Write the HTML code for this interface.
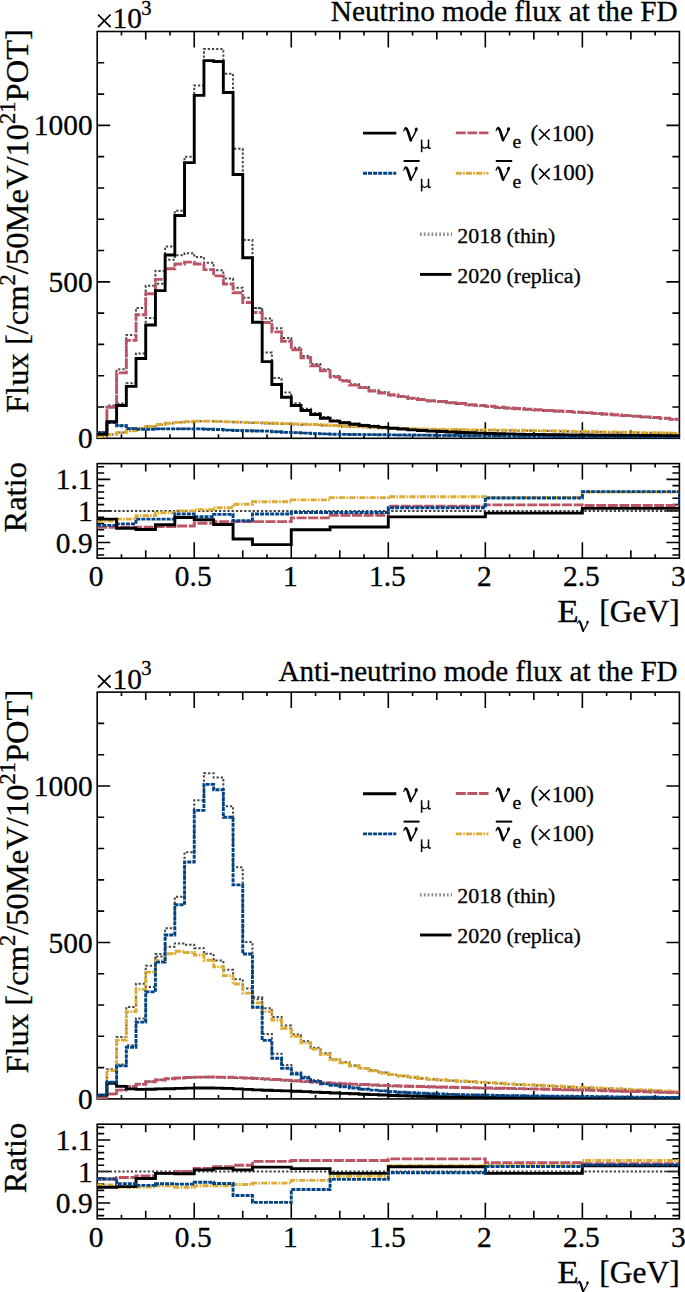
<!DOCTYPE html>
<html><head><meta charset="utf-8"><style>
html,body{margin:0;padding:0;background:#fff;width:685px;height:1292px;overflow:hidden}
svg{display:block}
</style></head><body>
<svg width="685" height="1292" viewBox="0 0 685 1292">
<defs><clipPath id="cm"><rect x="97.2" y="31.5" width="582.20" height="406.80"/></clipPath><clipPath id="cr"><rect x="97.2" y="463.6" width="582.20" height="94.60"/></clipPath></defs>
<rect width="685" height="1292" fill="#fff"/>
<g><g fill="none" stroke="#000" stroke-width="1.6">
<rect x="97.2" y="31.5" width="582.20" height="406.80"/>
<path d="M121.46 438.30V434.30M121.46 31.50V35.50M145.72 438.30V430.30M145.72 31.50V39.50M169.97 438.30V434.30M169.97 31.50V35.50M194.23 438.30V422.30M194.23 31.50V47.50M218.49 438.30V434.30M218.49 31.50V35.50M242.75 438.30V430.30M242.75 31.50V39.50M267.01 438.30V434.30M267.01 31.50V35.50M291.27 438.30V422.30M291.27 31.50V47.50M315.52 438.30V434.30M315.52 31.50V35.50M339.78 438.30V430.30M339.78 31.50V39.50M364.04 438.30V434.30M364.04 31.50V35.50M388.30 438.30V422.30M388.30 31.50V47.50M412.56 438.30V434.30M412.56 31.50V35.50M436.82 438.30V430.30M436.82 31.50V39.50M461.07 438.30V434.30M461.07 31.50V35.50M485.33 438.30V422.30M485.33 31.50V47.50M509.59 438.30V434.30M509.59 31.50V35.50M533.85 438.30V430.30M533.85 31.50V39.50M558.11 438.30V434.30M558.11 31.50V35.50M582.37 438.30V422.30M582.37 31.50V47.50M606.62 438.30V434.30M606.62 31.50V35.50M630.88 438.30V430.30M630.88 31.50V39.50M655.14 438.30V434.30M655.14 31.50V35.50M97.2 407.01H104.2M679.4 407.01H672.4M97.2 375.72H104.2M679.4 375.72H672.4M97.2 344.42H104.2M679.4 344.42H672.4M97.2 313.13H104.2M679.4 313.13H672.4M97.2 281.84H110.2M679.4 281.84H666.4M97.2 250.55H104.2M679.4 250.55H672.4M97.2 219.25H104.2M679.4 219.25H672.4M97.2 187.96H104.2M679.4 187.96H672.4M97.2 156.67H104.2M679.4 156.67H672.4M97.2 125.38H110.2M679.4 125.38H666.4M97.2 94.08H104.2M679.4 94.08H672.4M97.2 62.79H104.2M679.4 62.79H672.4"/>
<rect x="97.2" y="463.6" width="582.20" height="94.60"/>
<path d="M121.46 558.20V554.20M121.46 463.60V467.60M145.72 558.20V550.20M145.72 463.60V471.60M169.97 558.20V554.20M169.97 463.60V467.60M194.23 558.20V542.20M194.23 463.60V479.60M218.49 558.20V554.20M218.49 463.60V467.60M242.75 558.20V550.20M242.75 463.60V471.60M267.01 558.20V554.20M267.01 463.60V467.60M291.27 558.20V542.20M291.27 463.60V479.60M315.52 558.20V554.20M315.52 463.60V467.60M339.78 558.20V550.20M339.78 463.60V471.60M364.04 558.20V554.20M364.04 463.60V467.60M388.30 558.20V542.20M388.30 463.60V479.60M412.56 558.20V554.20M412.56 463.60V467.60M436.82 558.20V550.20M436.82 463.60V471.60M461.07 558.20V554.20M461.07 463.60V467.60M485.33 558.20V542.20M485.33 463.60V479.60M509.59 558.20V554.20M509.59 463.60V467.60M533.85 558.20V550.20M533.85 463.60V471.60M558.11 558.20V554.20M558.11 463.60V467.60M582.37 558.20V542.20M582.37 463.60V479.60M606.62 558.20V554.20M606.62 463.60V467.60M630.88 558.20V550.20M630.88 463.60V471.60M655.14 558.20V554.20M655.14 463.60V467.60M97.2 555.05H104.2M679.4 555.05H672.4M97.2 548.74H104.2M679.4 548.74H672.4M97.2 542.43H110.2M679.4 542.43H666.4M97.2 536.13H104.2M679.4 536.13H672.4M97.2 529.82H104.2M679.4 529.82H672.4M97.2 523.51H104.2M679.4 523.51H672.4M97.2 517.21H104.2M679.4 517.21H672.4M97.2 510.90H110.2M679.4 510.90H666.4M97.2 504.59H104.2M679.4 504.59H672.4M97.2 498.29H104.2M679.4 498.29H672.4M97.2 491.98H104.2M679.4 491.98H672.4M97.2 485.67H104.2M679.4 485.67H672.4M97.2 479.37H110.2M679.4 479.37H666.4M97.2 473.06H104.2M679.4 473.06H672.4M97.2 466.75H104.2M679.4 466.75H672.4"/>
</g>
<g fill="none" clip-path="url(#cm)">
<path d="M97.20 434.12H106.90V421.27H116.61V403.53H126.31V383.33H136.01V353.50H145.72V317.92H155.42V283.80H165.12V246.49H174.83V210.72H184.53V156.70H194.23V85.46H203.94V49.02H213.64V49.02H223.34V73.74H233.05V148.73H242.75V240.10H252.45V308.30H262.16V352.45H271.86V378.03H281.56V392.40H291.27V403.35H300.97V408.67H310.67V413.00H320.38V416.99H330.08V420.16H339.78V421.98H349.49V423.46H359.19V424.78H368.89V425.77H378.60V426.76H388.30V428.09H398.00V428.89H407.71V429.69H417.41V430.33H427.11V430.96H436.82V431.44H446.52V431.92H456.22V432.32H465.93V432.72H475.63V433.04H485.33V433.42H495.04V433.65H504.74V433.89H514.44V434.12H524.15V434.36H533.85V434.48H543.55V434.60H553.26V434.72H562.96V434.83H572.66V434.91H582.37V435.04H592.07V435.12H601.77V435.20H611.48V435.27H621.18V435.35H630.88V435.43H640.59V435.51H650.29V435.56H659.99V435.61H669.70V435.66H679.40" stroke="#454545" stroke-width="2.0" stroke-dasharray="2.3 1.9"/>
<path d="M97.20 432.36H106.90V405.62H116.61V369.31H126.31V334.98H136.01V307.92H145.72V285.80H155.42V270.97H165.12V259.77H174.83V255.21H184.53V253.24H194.23V256.93H203.94V262.79H213.64V270.18H223.34V278.60H233.05V287.67H242.75V297.71H252.45V308.08H262.16V318.44H271.86V328.16H281.56V337.88H291.27V347.75H300.97V356.07H310.67V364.07H320.38V369.19H330.08V376.10H339.78V380.22H349.49V384.35H359.19V386.89H368.89V390.38H378.60V392.28H388.30V395.45H398.00V396.99H407.71V398.68H417.41V400.07H427.11V401.30H436.82V402.04H446.52V403.15H456.22V404.08H465.93V405.31H475.63V405.93H485.33V406.79H495.04V407.90H504.74V408.51H514.44V409.13H524.15V409.74H533.85V410.35H543.55V410.97H553.26V411.51H562.96V412.04H572.66V412.58H582.37V413.07H592.07V413.76H601.77V414.45H611.48V415.15H621.18V415.84H630.88V416.53H640.59V417.22H650.29V417.92H659.99V418.61H669.70V419.53H679.40" stroke="#454545" stroke-width="2.0" stroke-dasharray="2.3 1.9"/>
<path d="M97.20 432.40H106.90V421.90H116.61V425.25H126.31V428.18H136.01V428.98H145.72V428.98H155.42V428.66H165.12V428.66H174.83V428.82H184.53V428.82H194.23V428.74H203.94V429.06H213.64V429.44H223.34V430.07H233.05V430.23H242.75V430.55H252.45V430.87H262.16V431.03H271.86V431.66H281.56V432.29H291.27V432.64H300.97V433.11H310.67V433.58H320.38V433.90H330.08V434.21H339.78V434.37H349.49V434.46H359.19V434.56H368.89V434.65H378.60V434.75H388.30V434.89H398.00V435.00H407.71V435.10H417.41V435.20H427.11V435.31H436.82V435.41H446.52V435.51H456.22V435.61H465.93V435.72H475.63V435.82H485.33V436.00H495.04V436.10H504.74V436.20H514.44V436.27H524.15V436.35H533.85V436.42H543.55V436.50H553.26V436.57H562.96V436.65H572.66V436.72H582.37V436.83H592.07V436.89H601.77V436.96H611.48V437.02H621.18V437.09H630.88V437.15H640.59V437.22H650.29V437.28H659.99V437.35H669.70V437.42H679.40" stroke="#454545" stroke-width="2.0" stroke-dasharray="2.3 1.9"/>
<path d="M97.20 436.68H106.90V434.42H116.61V432.52H126.31V430.59H136.01V428.45H145.72V426.23H155.42V424.45H165.12V423.19H174.83V422.34H184.53V421.72H194.23V421.16H203.94V421.16H213.64V421.57H223.34V421.88H233.05V422.36H242.75V422.67H252.45V423.09H262.16V423.40H271.86V423.70H281.56V424.01H291.27V424.39H300.97V424.69H310.67V425.00H320.38V425.45H330.08V425.99H339.78V426.44H349.49V426.89H359.19V427.34H368.89V427.79H378.60V428.16H388.30V428.57H398.00V428.87H407.71V429.17H417.41V429.39H427.11V429.62H436.82V429.77H446.52V429.92H456.22V430.07H465.93V430.21H475.63V430.29H485.33V430.35H495.04V430.42H504.74V430.50H514.44V430.65H524.15V430.80H533.85V430.95H543.55V431.10H553.26V431.29H562.96V431.47H572.66V431.66H582.37V431.95H592.07V432.10H601.77V432.25H611.48V432.40H621.18V432.54H630.88V432.73H640.59V432.91H650.29V433.10H659.99V433.28H669.70V433.58H679.40" stroke="#454545" stroke-width="2.0" stroke-dasharray="2.3 1.9"/>
<path d="M97.20 436.74H106.90V434.54H116.61V432.67H126.31V430.79H136.01V428.60H145.72V426.41H155.42V424.53H165.12V423.28H174.83V422.34H184.53V421.72H194.23V421.09H203.94V421.09H213.64V421.40H223.34V421.72H233.05V422.03H242.75V422.34H252.45V422.65H262.16V422.97H271.86V423.28H281.56V423.59H291.27V423.91H300.97V424.22H310.67V424.53H320.38V425.00H330.08V425.47H339.78V425.94H349.49V426.41H359.19V426.88H368.89V427.35H378.60V427.74H388.30V428.13H398.00V428.44H407.71V428.76H417.41V428.99H427.11V429.23H436.82V429.38H446.52V429.54H456.22V429.69H465.93V429.85H475.63V429.93H485.33V430.01H495.04V430.09H504.74V430.16H514.44V430.32H524.15V430.48H533.85V430.63H543.55V430.79H553.26V430.99H562.96V431.18H572.66V431.38H582.37V431.57H592.07V431.73H601.77V431.89H611.48V432.04H621.18V432.20H630.88V432.39H640.59V432.59H650.29V432.78H659.99V432.98H669.70V433.29H679.40" stroke="#DDAA33" stroke-width="2.9" stroke-dasharray="6 1.35 1.6 1.25"/>
<path d="M97.20 432.67H106.90V407.32H116.61V372.90H126.31V340.36H136.01V314.70H145.72V293.73H155.42V279.34H165.12V268.70H174.83V264.00H184.53V262.12H194.23V264.00H203.94V269.63H213.64V275.89H223.34V284.03H233.05V292.79H242.75V302.49H252.45V312.50H262.16V322.52H271.86V331.91H281.56V341.29H291.27V349.74H300.97V357.88H310.67V365.70H320.38V370.71H330.08V376.97H339.78V381.04H349.49V385.10H359.19V387.61H368.89V391.05H378.60V392.93H388.30V394.80H398.00V396.37H407.71V398.09H417.41V399.50H427.11V400.75H436.82V401.50H446.52V402.63H456.22V403.57H465.93V404.82H475.63V405.44H485.33V406.19H495.04V407.32H504.74V407.95H514.44V408.57H524.15V409.20H533.85V409.82H543.55V410.45H553.26V411.00H562.96V411.55H572.66V412.09H582.37V412.64H592.07V413.34H601.77V414.05H611.48V414.75H621.18V415.46H630.88V416.16H640.59V416.86H650.29V417.57H659.99V418.27H669.70V419.21H679.40" stroke="#BB5566" stroke-width="2.9" stroke-dasharray="10 1.6"/>
<path d="M97.20 432.67H106.90V422.65H116.61V425.78H126.31V428.60H136.01V429.23H145.72V429.23H155.42V428.91H165.12V428.91H174.83V428.91H184.53V428.91H194.23V428.91H203.94V429.23H213.64V429.54H223.34V430.16H233.05V430.48H242.75V430.79H252.45V430.95H262.16V431.10H271.86V431.73H281.56V432.35H291.27V432.67H300.97V433.14H310.67V433.61H320.38V433.92H330.08V434.23H339.78V434.39H349.49V434.48H359.19V434.58H368.89V434.67H378.60V434.76H388.30V434.86H398.00V434.96H407.71V435.07H417.41V435.17H427.11V435.28H436.82V435.38H446.52V435.48H456.22V435.59H465.93V435.69H475.63V435.80H485.33V435.90H495.04V436.01H504.74V436.11H514.44V436.19H524.15V436.27H533.85V436.34H543.55V436.42H553.26V436.50H562.96V436.58H572.66V436.66H582.37V436.74H592.07V436.80H601.77V436.87H611.48V436.94H621.18V437.01H630.88V437.08H640.59V437.15H650.29V437.22H659.99V437.29H669.70V437.36H679.40" stroke="#004488" stroke-width="2.9" stroke-dasharray="4 1.05"/>
<path d="M97.20 434.23H106.90V421.72H116.61V405.44H126.31V386.35H136.01V358.50H145.72V325.02H155.42V290.60H165.12V254.93H174.83V215.50H184.53V162.61H194.23V95.34H203.94V60.60H213.64V61.54H223.34V92.52H233.05V174.51H242.75V257.74H252.45V322.21H262.16V361.63H271.86V384.48H281.56V397.31H291.27V405.44H300.97V410.45H310.67V414.52H320.38V418.27H330.08V421.09H339.78V422.81H349.49V424.22H359.19V425.47H368.89V426.41H378.60V427.35H388.30V428.29H398.00V429.07H407.71V429.85H417.41V430.48H427.11V431.10H436.82V431.57H446.52V432.04H456.22V432.43H465.93V432.82H475.63V433.14H485.33V433.45H495.04V433.68H504.74V433.92H514.44V434.15H524.15V434.39H533.85V434.51H543.55V434.62H553.26V434.74H562.96V434.86H572.66V434.94H582.37V435.01H592.07V435.09H601.77V435.17H611.48V435.25H621.18V435.33H630.88V435.41H640.59V435.48H650.29V435.54H659.99V435.59H669.70V435.64H679.40" stroke="#000000" stroke-width="2.9"/>
</g>
<g fill="none" clip-path="url(#cr)">
<path d="M97.2 510.90H679.4" stroke="#454545" stroke-width="2.0" stroke-dasharray="2.3 1.9"/>
<path d="M97.20 520.99H116.61V519.10H136.01V515.63H155.42V512.79H174.83V510.90H194.23V509.64H213.64V507.75H233.05V504.28H252.45V501.76H291.27V499.86H330.08V497.66H388.30V496.71H485.33V497.34H582.37V491.98H679.40" stroke="#DDAA33" stroke-width="2.9" stroke-dasharray="6 1.35 1.6 1.25"/>
<path d="M97.20 527.30H116.61V527.30H136.01V527.30H155.42V526.67H174.83V526.04H194.23V523.20H213.64V521.62H233.05V521.62H252.45V521.62H291.27V517.84H330.08V515.31H388.30V506.17H485.33V504.91H582.37V505.54H679.40" stroke="#BB5566" stroke-width="2.9" stroke-dasharray="10 1.6"/>
<path d="M97.20 525.41H116.61V523.83H136.01V519.10H155.42V519.10H174.83V514.05H194.23V516.58H213.64V514.37H233.05V520.68H252.45V514.05H291.27V512.48H330.08V512.48H388.30V507.75H485.33V497.97H582.37V491.66H679.40V503.33H776.43" stroke="#004488" stroke-width="2.9" stroke-dasharray="4 1.05"/>
<path d="M97.20 519.10H116.61V528.24H136.01V529.50H155.42V524.77H174.83V517.52H194.23V519.73H213.64V524.46H233.05V538.96H252.45V544.64H291.27V529.82H330.08V526.98H388.30V516.89H485.33V513.11H582.37V508.38H679.40" stroke="#000000" stroke-width="2.9"/>
</g>
<g font-family="Liberation Serif, serif" stroke="#000" stroke-width="0.3" fill="#000">
<text transform="translate(677.60 20.80) scale(1 1.02)" font-size="29.25" text-anchor="end">Neutrino mode flux at the FD</text>
<path d="M98.00 14.50L110.60 27.10M98.00 27.10L110.60 14.50" stroke="#000" stroke-width="1.75" fill="none"/>
<text x="112.60" y="28.40" font-size="29.3">10</text>
<text x="141.20" y="14.50" font-size="20.5">3</text>
<text transform="translate(92.60 448.40) scale(1 1.03)" font-size="29.4" text-anchor="end">0</text>
<text transform="translate(92.60 291.94) scale(1 1.03)" font-size="29.4" text-anchor="end">500</text>
<text transform="translate(92.60 135.48) scale(1 1.03)" font-size="29.4" text-anchor="end">1000</text>
<text transform="translate(92.60 552.53) scale(1 1.03)" font-size="29.4" text-anchor="end">0.9</text>
<text transform="translate(92.60 521.00) scale(1 1.03)" font-size="29.4" text-anchor="end">1</text>
<text transform="translate(92.60 489.47) scale(1 1.03)" font-size="29.4" text-anchor="end">1.1</text>
<text transform="translate(96.20 586.30) scale(1 1.03)" font-size="29.4" text-anchor="middle">0</text>
<text transform="translate(193.23 586.30) scale(1 1.03)" font-size="29.4" text-anchor="middle">0.5</text>
<text transform="translate(290.27 586.30) scale(1 1.03)" font-size="29.4" text-anchor="middle">1</text>
<text transform="translate(387.30 586.30) scale(1 1.03)" font-size="29.4" text-anchor="middle">1.5</text>
<text transform="translate(484.33 586.30) scale(1 1.03)" font-size="29.4" text-anchor="middle">2</text>
<text transform="translate(581.37 586.30) scale(1 1.03)" font-size="29.4" text-anchor="middle">2.5</text>
<text transform="translate(678.40 586.30) scale(1 1.03)" font-size="29.4" text-anchor="middle">3</text>
<text transform="translate(557.3 622.3) scale(1.12 0.975)" font-size="31.5">E</text>
<g transform="translate(577.10 620.60) scale(0.8)" fill="none" stroke="#000" stroke-linecap="round" stroke-linejoin="round"><path d="M0.6 3.5C0.9 1.9 1.6 1.0 2.7 0.9" stroke-width="1.2"/><path d="M2.6 0.9C3.6 1.0 4.1 2.3 4.6 3.7L7.6 13.0" stroke-width="2.7"/><path d="M7.6 13.0C9.4 9.8 11.7 6.6 12.8 3.4" stroke-width="1.45"/><ellipse cx="13.0" cy="2.1" rx="1.5" ry="2.0" transform="rotate(22 13.0 2.1)" fill="#000" stroke="none"/></g>
<text x="679.80" y="622.30" font-size="31.5" text-anchor="end">[GeV]</text>
<text transform="translate(28.1 413) rotate(-90)" font-size="32.6">Flux [/cm<tspan font-size="22.5" dy="-13.5">2</tspan><tspan dy="13.5">/50MeV/10</tspan><tspan font-size="22.5" dy="-13.5">21</tspan><tspan dy="13.5">POT]</tspan></text>
<text transform="translate(26.3 532.6) rotate(-90)" font-size="32.6">Ratio</text>
</g>
<g fill="none">
<path d="M363 133.1H396.3" stroke="#000000" stroke-width="2.9"/>
<path d="M363 173.3H396.3" stroke="#004488" stroke-width="2.9" stroke-dasharray="4 1.05"/>
<path d="M455.8 132.9H488.5" stroke="#BB5566" stroke-width="2.9" stroke-dasharray="10 1.6"/>
<path d="M455.8 173.3H488.5" stroke="#DDAA33" stroke-width="2.9" stroke-dasharray="6 1.35 1.6 1.25"/>
<path d="M420 234.3H452" stroke="#8a8a8a" stroke-width="3.4" stroke-dasharray="1.7 2.15"/>
<path d="M420 274.4H451.5" stroke="#000" stroke-width="2.9"/>
</g>
<g font-family="Liberation Serif, serif" stroke="#000" stroke-width="0.3" fill="#000">
<g transform="translate(403.20 127.40) scale(1.0)" fill="none" stroke="#000" stroke-linecap="round" stroke-linejoin="round"><path d="M0.6 3.5C0.9 1.9 1.6 1.0 2.7 0.9" stroke-width="1.2"/><path d="M2.6 0.9C3.6 1.0 4.1 2.3 4.6 3.7L7.6 13.0" stroke-width="2.7"/><path d="M7.6 13.0C9.4 9.8 11.7 6.6 12.8 3.4" stroke-width="1.45"/><ellipse cx="13.0" cy="2.1" rx="1.5" ry="2.0" transform="rotate(22 13.0 2.1)" fill="#000" stroke="none"/></g>
<g transform="translate(420.20 139.30) scale(1.0)" fill="none" stroke="#000" stroke-linecap="butt"><path d="M1.4 0.3V12.9" stroke-width="1.55"/><path d="M1.5 6.0C1.6 9.4 5.4 9.6 8.0 7.2" stroke-width="1.15"/><path d="M8.3 0.3V8.0C8.3 9.2 9.3 9.4 10.4 8.4" stroke-width="1.5"/></g>
<g transform="translate(403.20 166.60) scale(1.0)" fill="none" stroke="#000" stroke-linecap="round" stroke-linejoin="round"><path d="M0.6 3.5C0.9 1.9 1.6 1.0 2.7 0.9" stroke-width="1.2"/><path d="M2.6 0.9C3.6 1.0 4.1 2.3 4.6 3.7L7.6 13.0" stroke-width="2.7"/><path d="M7.6 13.0C9.4 9.8 11.7 6.6 12.8 3.4" stroke-width="1.45"/><ellipse cx="13.0" cy="2.1" rx="1.5" ry="2.0" transform="rotate(22 13.0 2.1)" fill="#000" stroke="none"/></g>
<g transform="translate(420.20 178.50) scale(1.0)" fill="none" stroke="#000" stroke-linecap="butt"><path d="M1.4 0.3V12.9" stroke-width="1.55"/><path d="M1.5 6.0C1.6 9.4 5.4 9.6 8.0 7.2" stroke-width="1.15"/><path d="M8.3 0.3V8.0C8.3 9.2 9.3 9.4 10.4 8.4" stroke-width="1.5"/></g>
<path d="M403.6 161H419.6" stroke="#000" stroke-width="2"/>
<g transform="translate(495.50 127.20) scale(1.0)" fill="none" stroke="#000" stroke-linecap="round" stroke-linejoin="round"><path d="M0.6 3.5C0.9 1.9 1.6 1.0 2.7 0.9" stroke-width="1.2"/><path d="M2.6 0.9C3.6 1.0 4.1 2.3 4.6 3.7L7.6 13.0" stroke-width="2.7"/><path d="M7.6 13.0C9.4 9.8 11.7 6.6 12.8 3.4" stroke-width="1.45"/><ellipse cx="13.0" cy="2.1" rx="1.5" ry="2.0" transform="rotate(22 13.0 2.1)" fill="#000" stroke="none"/></g>
<text x="512.50" y="148.30" font-size="19.6">e</text>
<g transform="translate(495.50 166.60) scale(1.0)" fill="none" stroke="#000" stroke-linecap="round" stroke-linejoin="round"><path d="M0.6 3.5C0.9 1.9 1.6 1.0 2.7 0.9" stroke-width="1.2"/><path d="M2.6 0.9C3.6 1.0 4.1 2.3 4.6 3.7L7.6 13.0" stroke-width="2.7"/><path d="M7.6 13.0C9.4 9.8 11.7 6.6 12.8 3.4" stroke-width="1.45"/><ellipse cx="13.0" cy="2.1" rx="1.5" ry="2.0" transform="rotate(22 13.0 2.1)" fill="#000" stroke="none"/></g>
<text x="512.50" y="187.70" font-size="19.6">e</text>
<path d="M495.8 161H512.2" stroke="#000" stroke-width="2"/>
<text x="530.50" y="141.00" font-size="23.0">(</text>
<path d="M539.10 129.20L549.70 139.80M539.10 139.80L549.70 129.20" stroke="#000" stroke-width="1.6" fill="none"/>
<text x="551.80" y="141.00" font-size="23.0">100)</text>
<text x="530.50" y="180.40" font-size="23.0">(</text>
<path d="M539.10 168.60L549.70 179.20M539.10 179.20L549.70 168.60" stroke="#000" stroke-width="1.6" fill="none"/>
<text x="551.80" y="180.40" font-size="23.0">100)</text>
<text x="457.30" y="242.70" font-size="21.9">2018 (thin)</text>
<text x="457.30" y="282.90" font-size="21.9">2020 (replica)</text>
</g></g>
<g transform="translate(0 660.6)"><g fill="none" stroke="#000" stroke-width="1.6">
<rect x="97.2" y="31.5" width="582.20" height="406.80"/>
<path d="M121.46 438.30V434.30M121.46 31.50V35.50M145.72 438.30V430.30M145.72 31.50V39.50M169.97 438.30V434.30M169.97 31.50V35.50M194.23 438.30V422.30M194.23 31.50V47.50M218.49 438.30V434.30M218.49 31.50V35.50M242.75 438.30V430.30M242.75 31.50V39.50M267.01 438.30V434.30M267.01 31.50V35.50M291.27 438.30V422.30M291.27 31.50V47.50M315.52 438.30V434.30M315.52 31.50V35.50M339.78 438.30V430.30M339.78 31.50V39.50M364.04 438.30V434.30M364.04 31.50V35.50M388.30 438.30V422.30M388.30 31.50V47.50M412.56 438.30V434.30M412.56 31.50V35.50M436.82 438.30V430.30M436.82 31.50V39.50M461.07 438.30V434.30M461.07 31.50V35.50M485.33 438.30V422.30M485.33 31.50V47.50M509.59 438.30V434.30M509.59 31.50V35.50M533.85 438.30V430.30M533.85 31.50V39.50M558.11 438.30V434.30M558.11 31.50V35.50M582.37 438.30V422.30M582.37 31.50V47.50M606.62 438.30V434.30M606.62 31.50V35.50M630.88 438.30V430.30M630.88 31.50V39.50M655.14 438.30V434.30M655.14 31.50V35.50M97.2 407.01H104.2M679.4 407.01H672.4M97.2 375.72H104.2M679.4 375.72H672.4M97.2 344.42H104.2M679.4 344.42H672.4M97.2 313.13H104.2M679.4 313.13H672.4M97.2 281.84H110.2M679.4 281.84H666.4M97.2 250.55H104.2M679.4 250.55H672.4M97.2 219.25H104.2M679.4 219.25H672.4M97.2 187.96H104.2M679.4 187.96H672.4M97.2 156.67H104.2M679.4 156.67H672.4M97.2 125.38H110.2M679.4 125.38H666.4M97.2 94.08H104.2M679.4 94.08H672.4M97.2 62.79H104.2M679.4 62.79H672.4"/>
<rect x="97.2" y="463.6" width="582.20" height="94.60"/>
<path d="M121.46 558.20V554.20M121.46 463.60V467.60M145.72 558.20V550.20M145.72 463.60V471.60M169.97 558.20V554.20M169.97 463.60V467.60M194.23 558.20V542.20M194.23 463.60V479.60M218.49 558.20V554.20M218.49 463.60V467.60M242.75 558.20V550.20M242.75 463.60V471.60M267.01 558.20V554.20M267.01 463.60V467.60M291.27 558.20V542.20M291.27 463.60V479.60M315.52 558.20V554.20M315.52 463.60V467.60M339.78 558.20V550.20M339.78 463.60V471.60M364.04 558.20V554.20M364.04 463.60V467.60M388.30 558.20V542.20M388.30 463.60V479.60M412.56 558.20V554.20M412.56 463.60V467.60M436.82 558.20V550.20M436.82 463.60V471.60M461.07 558.20V554.20M461.07 463.60V467.60M485.33 558.20V542.20M485.33 463.60V479.60M509.59 558.20V554.20M509.59 463.60V467.60M533.85 558.20V550.20M533.85 463.60V471.60M558.11 558.20V554.20M558.11 463.60V467.60M582.37 558.20V542.20M582.37 463.60V479.60M606.62 558.20V554.20M606.62 463.60V467.60M630.88 558.20V550.20M630.88 463.60V471.60M655.14 558.20V554.20M655.14 463.60V467.60M97.2 555.05H104.2M679.4 555.05H672.4M97.2 548.74H104.2M679.4 548.74H672.4M97.2 542.43H110.2M679.4 542.43H666.4M97.2 536.13H104.2M679.4 536.13H672.4M97.2 529.82H104.2M679.4 529.82H672.4M97.2 523.51H104.2M679.4 523.51H672.4M97.2 517.21H104.2M679.4 517.21H672.4M97.2 510.90H110.2M679.4 510.90H666.4M97.2 504.59H104.2M679.4 504.59H672.4M97.2 498.29H104.2M679.4 498.29H672.4M97.2 491.98H104.2M679.4 491.98H672.4M97.2 485.67H104.2M679.4 485.67H672.4M97.2 479.37H110.2M679.4 479.37H666.4M97.2 473.06H104.2M679.4 473.06H672.4M97.2 466.75H104.2M679.4 466.75H672.4"/>
</g>
<g fill="none" clip-path="url(#cm)">
<path d="M97.20 434.35H106.90V421.83H116.61V425.15H126.31V427.78H136.01V428.54H145.72V428.38H155.42V428.23H165.12V428.07H174.83V427.74H184.53V427.43H194.23V427.40H203.94V427.40H213.64V427.61H223.34V427.92H233.05V428.34H242.75V428.80H252.45V429.35H262.16V429.81H271.86V430.12H281.56V430.43H291.27V430.70H300.97V431.13H310.67V431.55H320.38V431.98H330.08V432.32H339.78V432.74H349.49V433.16H359.19V433.58H368.89V434.00H378.60V434.42H388.30V434.91H398.00V435.17H407.71V435.42H417.41V435.68H427.11V435.94H436.82V436.19H446.52V436.45H456.22V436.58H465.93V436.71H475.63V436.84H485.33V436.94H495.04V437.07H504.74V437.20H514.44V437.24H524.15V437.28H533.85V437.32H543.55V437.36H553.26V437.39H562.96V437.43H572.66V437.47H582.37V437.53H592.07V437.55H601.77V437.57H611.48V437.58H621.18V437.60H630.88V437.62H640.59V437.63H650.29V437.65H659.99V437.67H669.70V437.69H679.40" stroke="#454545" stroke-width="2.0" stroke-dasharray="2.3 1.9"/>
<path d="M97.20 436.70H106.90V433.33H116.61V429.37H126.31V425.54H136.01V423.38H145.72V420.84H155.42V419.25H165.12V417.99H174.83V417.33H184.53V416.86H194.23V416.77H203.94V416.61H213.64V416.87H223.34V417.03H233.05V417.44H242.75V417.75H252.45V418.44H262.16V418.89H271.86V419.50H281.56V420.11H291.27V420.76H300.97V421.37H310.67V421.97H320.38V422.58H330.08V423.18H339.78V423.59H349.49V423.99H359.19V424.39H368.89V424.80H378.60V425.20H388.30V425.66H398.00V425.91H407.71V426.16H417.41V426.41H427.11V426.67H436.82V426.92H446.52V427.17H456.22V427.34H465.93V427.52H475.63V427.69H485.33V427.75H495.04V427.93H504.74V428.10H514.44V428.31H524.15V428.52H533.85V428.73H543.55V428.94H553.26V429.15H562.96V429.36H572.66V429.57H582.37V429.75H592.07V430.02H601.77V430.29H611.48V430.57H621.18V430.84H630.88V431.11H640.59V431.38H650.29V431.65H659.99V431.92H669.70V432.19H679.40" stroke="#454545" stroke-width="2.0" stroke-dasharray="2.3 1.9"/>
<path d="M97.20 434.45H106.90V421.31H116.61V403.95H126.31V384.57H136.01V357.94H145.72V326.35H155.42V296.00H165.12V267.67H174.83V236.04H184.53V191.55H194.23V139.63H203.94V112.74H213.64V116.92H223.34V145.54H233.05V206.66H242.75V281.50H252.45V336.65H262.16V373.43H271.86V393.20H281.56V404.30H291.27V411.89H300.97V416.07H310.67V419.72H320.38V422.37H330.08V424.34H339.78V425.78H349.49V427.07H359.19V428.35H368.89V429.31H378.60V430.12H388.30V431.07H398.00V431.62H407.71V432.17H417.41V432.64H427.11V433.12H436.82V433.43H446.52V433.74H456.22V433.98H465.93V434.22H475.63V434.45H485.33V434.76H495.04V434.91H504.74V435.07H514.44V435.18H524.15V435.30H533.85V435.41H543.55V435.53H553.26V435.64H562.96V435.76H572.66V435.87H582.37V436.00H592.07V436.12H601.77V436.23H611.48V436.35H621.18V436.46H630.88V436.55H640.59V436.64H650.29V436.74H659.99V436.83H669.70V436.92H679.40" stroke="#454545" stroke-width="2.0" stroke-dasharray="2.3 1.9"/>
<path d="M97.20 437.32H106.90V408.71H116.61V376.37H126.31V346.40H136.01V323.13H145.72V305.04H155.42V293.47H165.12V286.26H174.83V282.83H184.53V284.14H194.23V287.57H203.94V293.14H213.64V300.02H223.34V309.20H233.05V318.55H242.75V328.01H252.45V338.54H262.16V347.64H271.86V356.41H281.56V364.86H291.27V373.91H300.97V380.67H310.67V387.11H320.38V392.58H330.08V398.59H339.78V401.77H349.49V404.94H359.19V407.48H368.89V409.71H378.60V411.93H388.30V414.32H398.00V415.55H407.71V416.78H417.41V418.01H427.11V418.93H436.82V419.55H446.52V420.16H456.22V420.78H465.93V421.24H475.63V421.78H485.33V422.35H495.04V422.96H504.74V423.57H514.44V424.03H524.15V424.49H533.85V424.95H543.55V425.41H553.26V425.88H562.96V426.34H572.66V426.76H582.37V427.34H592.07V427.76H601.77V428.17H611.48V428.55H621.18V428.93H630.88V429.31H640.59V429.68H650.29V430.14H659.99V430.59H669.70V431.04H679.40" stroke="#454545" stroke-width="2.0" stroke-dasharray="2.3 1.9"/>
<path d="M97.20 437.36H106.90V409.98H116.61V379.47H126.31V350.99H136.01V328.78H145.72V311.57H155.42V299.99H165.12V293.10H174.83V290.60H184.53V291.85H194.23V294.36H203.94V299.68H213.64V306.25H223.34V315.01H233.05V323.46H242.75V332.53H252.45V342.23H262.16V350.99H271.86V359.44H281.56V367.58H291.27V375.72H300.97V382.29H310.67V388.55H320.38V393.86H330.08V399.18H339.78V402.31H349.49V405.44H359.19V407.95H368.89V410.14H378.60V412.33H388.30V413.89H398.00V415.14H407.71V416.40H417.41V417.65H427.11V418.59H436.82V419.21H446.52V419.84H456.22V420.46H465.93V420.93H475.63V421.48H485.33V422.03H495.04V422.65H504.74V423.28H514.44V423.75H524.15V424.22H533.85V424.69H543.55V425.16H553.26V425.63H562.96V426.10H572.66V426.53H582.37V426.96H592.07V427.39H601.77V427.82H611.48V428.21H621.18V428.60H630.88V428.99H640.59V429.38H650.29V429.85H659.99V430.32H669.70V430.79H679.40" stroke="#DDAA33" stroke-width="2.9" stroke-dasharray="6 1.35 1.6 1.25"/>
<path d="M97.20 436.74H106.90V433.45H116.61V429.54H126.31V425.78H136.01V423.59H145.72V421.09H155.42V419.37H165.12V418.12H174.83V417.33H184.53V416.86H194.23V416.55H203.94V416.40H213.64V416.55H223.34V416.71H233.05V417.02H242.75V417.33H252.45V417.80H262.16V418.27H271.86V418.90H281.56V419.52H291.27V420.15H300.97V420.78H310.67V421.40H320.38V422.03H330.08V422.65H339.78V423.07H349.49V423.49H359.19V423.91H368.89V424.32H378.60V424.74H388.30V425.16H398.00V425.42H407.71V425.68H417.41V425.94H427.11V426.20H436.82V426.46H446.52V426.72H456.22V426.90H465.93V427.09H475.63V427.27H485.33V427.45H495.04V427.63H504.74V427.82H514.44V428.03H524.15V428.25H533.85V428.46H543.55V428.68H553.26V428.89H562.96V429.11H572.66V429.32H582.37V429.54H592.07V429.82H601.77V430.09H611.48V430.37H621.18V430.65H630.88V430.93H640.59V431.21H650.29V431.49H659.99V431.76H669.70V432.04H679.40" stroke="#BB5566" stroke-width="2.9" stroke-dasharray="10 1.6"/>
<path d="M97.20 434.54H106.90V422.65H116.61V425.78H126.31V428.29H136.01V428.76H145.72V428.60H155.42V428.29H165.12V428.13H174.83V427.82H184.53V427.50H194.23V427.35H203.94V427.35H213.64V427.50H223.34V427.82H233.05V428.29H242.75V428.76H252.45V429.23H262.16V429.69H271.86V430.01H281.56V430.32H291.27V430.63H300.97V431.06H310.67V431.49H320.38V431.92H330.08V432.35H339.78V432.77H349.49V433.19H359.19V433.61H368.89V434.02H378.60V434.44H388.30V434.86H398.00V435.12H407.71V435.38H417.41V435.64H427.11V435.90H436.82V436.16H446.52V436.42H456.22V436.55H465.93V436.68H475.63V436.81H485.33V436.94H495.04V437.07H504.74V437.20H514.44V437.24H524.15V437.28H533.85V437.32H543.55V437.36H553.26V437.40H562.96V437.44H572.66V437.48H582.37V437.52H592.07V437.54H601.77V437.55H611.48V437.57H621.18V437.59H630.88V437.60H640.59V437.62H650.29V437.64H659.99V437.66H669.70V437.67H679.40" stroke="#000000" stroke-width="2.9"/>
<path d="M97.20 434.54H106.90V421.72H116.61V405.29H126.31V386.67H136.01V361.48H145.72V331.28H155.42V301.55H165.12V274.33H174.83V244.13H184.53V201.42H194.23V149.78H203.94V123.81H213.64V129.13H223.34V156.67H233.05V224.26H242.75V293.42H252.45V346.61H262.16V379.78H271.86V397.62H281.56V407.63H291.27V413.39H300.97V417.33H310.67V420.78H320.38V423.28H330.08V424.69H339.78V426.10H349.49V427.35H359.19V428.60H368.89V429.54H378.60V430.32H388.30V431.10H398.00V431.65H407.71V432.20H417.41V432.67H427.11V433.14H436.82V433.45H446.52V433.76H456.22V434.00H465.93V434.23H475.63V434.47H485.33V434.70H495.04V434.86H504.74V435.01H514.44V435.13H524.15V435.25H533.85V435.37H543.55V435.48H553.26V435.60H562.96V435.72H572.66V435.84H582.37V435.95H592.07V436.07H601.77V436.19H611.48V436.31H621.18V436.42H630.88V436.52H640.59V436.61H650.29V436.70H659.99V436.80H669.70V436.89H679.40" stroke="#004488" stroke-width="2.9" stroke-dasharray="4 1.05"/>
</g>
<g fill="none" clip-path="url(#cr)">
<path d="M97.2 510.90H679.4" stroke="#454545" stroke-width="2.0" stroke-dasharray="2.3 1.9"/>
<path d="M97.20 524.46H116.61V526.67H136.01V526.35H155.42V525.09H174.83V526.67H194.23V525.09H213.64V525.09H233.05V523.83H252.45V522.57H291.27V519.73H330.08V515.63H388.30V505.22H485.33V504.59H582.37V499.86H679.40" stroke="#DDAA33" stroke-width="2.9" stroke-dasharray="6 1.35 1.6 1.25"/>
<path d="M97.20 518.47H116.61V516.89H136.01V515.31H155.42V512.79H174.83V510.90H194.23V507.75H213.64V506.17H233.05V504.59H252.45V500.81H291.27V499.86H330.08V499.86H388.30V498.29H485.33V502.07H582.37V503.02H679.40" stroke="#BB5566" stroke-width="2.9" stroke-dasharray="10 1.6"/>
<path d="M97.20 526.67H116.61V526.04H136.01V517.84H155.42V512.79H174.83V513.11H194.23V509.32H213.64V507.75H233.05V509.32H252.45V506.49H291.27V508.06H330.08V512.79H388.30V506.17H485.33V512.79H582.37V505.22H679.40V514.05H776.43" stroke="#000000" stroke-width="2.9"/>
<path d="M97.20 518.47H116.61V523.20H136.01V524.77H155.42V523.20H174.83V523.51H194.23V521.62H213.64V522.88H233.05V534.87H252.45V541.80H291.27V528.87H330.08V518.78H388.30V512.16H485.33V505.85H582.37V504.28H679.40" stroke="#004488" stroke-width="2.9" stroke-dasharray="4 1.05"/>
</g>
<g font-family="Liberation Serif, serif" stroke="#000" stroke-width="0.3" fill="#000">
<text transform="translate(677.60 20.80) scale(1 1.02)" font-size="29.05" text-anchor="end">Anti-neutrino mode flux at the FD</text>
<path d="M98.00 14.50L110.60 27.10M98.00 27.10L110.60 14.50" stroke="#000" stroke-width="1.75" fill="none"/>
<text x="112.60" y="28.40" font-size="29.3">10</text>
<text x="141.20" y="14.50" font-size="20.5">3</text>
<text transform="translate(92.60 448.40) scale(1 1.03)" font-size="29.4" text-anchor="end">0</text>
<text transform="translate(92.60 291.94) scale(1 1.03)" font-size="29.4" text-anchor="end">500</text>
<text transform="translate(92.60 135.48) scale(1 1.03)" font-size="29.4" text-anchor="end">1000</text>
<text transform="translate(92.60 552.53) scale(1 1.03)" font-size="29.4" text-anchor="end">0.9</text>
<text transform="translate(92.60 521.00) scale(1 1.03)" font-size="29.4" text-anchor="end">1</text>
<text transform="translate(92.60 489.47) scale(1 1.03)" font-size="29.4" text-anchor="end">1.1</text>
<text transform="translate(96.20 586.30) scale(1 1.03)" font-size="29.4" text-anchor="middle">0</text>
<text transform="translate(193.23 586.30) scale(1 1.03)" font-size="29.4" text-anchor="middle">0.5</text>
<text transform="translate(290.27 586.30) scale(1 1.03)" font-size="29.4" text-anchor="middle">1</text>
<text transform="translate(387.30 586.30) scale(1 1.03)" font-size="29.4" text-anchor="middle">1.5</text>
<text transform="translate(484.33 586.30) scale(1 1.03)" font-size="29.4" text-anchor="middle">2</text>
<text transform="translate(581.37 586.30) scale(1 1.03)" font-size="29.4" text-anchor="middle">2.5</text>
<text transform="translate(678.40 586.30) scale(1 1.03)" font-size="29.4" text-anchor="middle">3</text>
<text transform="translate(557.3 622.3) scale(1.12 0.975)" font-size="31.5">E</text>
<g transform="translate(577.10 620.60) scale(0.8)" fill="none" stroke="#000" stroke-linecap="round" stroke-linejoin="round"><path d="M0.6 3.5C0.9 1.9 1.6 1.0 2.7 0.9" stroke-width="1.2"/><path d="M2.6 0.9C3.6 1.0 4.1 2.3 4.6 3.7L7.6 13.0" stroke-width="2.7"/><path d="M7.6 13.0C9.4 9.8 11.7 6.6 12.8 3.4" stroke-width="1.45"/><ellipse cx="13.0" cy="2.1" rx="1.5" ry="2.0" transform="rotate(22 13.0 2.1)" fill="#000" stroke="none"/></g>
<text x="679.80" y="622.30" font-size="31.5" text-anchor="end">[GeV]</text>
<text transform="translate(28.1 413) rotate(-90)" font-size="32.6">Flux [/cm<tspan font-size="22.5" dy="-13.5">2</tspan><tspan dy="13.5">/50MeV/10</tspan><tspan font-size="22.5" dy="-13.5">21</tspan><tspan dy="13.5">POT]</tspan></text>
<text transform="translate(26.3 532.6) rotate(-90)" font-size="32.6">Ratio</text>
</g>
<g fill="none">
<path d="M363 133.1H396.3" stroke="#000000" stroke-width="2.9"/>
<path d="M363 173.3H396.3" stroke="#004488" stroke-width="2.9" stroke-dasharray="4 1.05"/>
<path d="M455.8 132.9H488.5" stroke="#BB5566" stroke-width="2.9" stroke-dasharray="10 1.6"/>
<path d="M455.8 173.3H488.5" stroke="#DDAA33" stroke-width="2.9" stroke-dasharray="6 1.35 1.6 1.25"/>
<path d="M420 234.3H452" stroke="#8a8a8a" stroke-width="3.4" stroke-dasharray="1.7 2.15"/>
<path d="M420 274.4H451.5" stroke="#000" stroke-width="2.9"/>
</g>
<g font-family="Liberation Serif, serif" stroke="#000" stroke-width="0.3" fill="#000">
<g transform="translate(403.20 127.40) scale(1.0)" fill="none" stroke="#000" stroke-linecap="round" stroke-linejoin="round"><path d="M0.6 3.5C0.9 1.9 1.6 1.0 2.7 0.9" stroke-width="1.2"/><path d="M2.6 0.9C3.6 1.0 4.1 2.3 4.6 3.7L7.6 13.0" stroke-width="2.7"/><path d="M7.6 13.0C9.4 9.8 11.7 6.6 12.8 3.4" stroke-width="1.45"/><ellipse cx="13.0" cy="2.1" rx="1.5" ry="2.0" transform="rotate(22 13.0 2.1)" fill="#000" stroke="none"/></g>
<g transform="translate(420.20 139.30) scale(1.0)" fill="none" stroke="#000" stroke-linecap="butt"><path d="M1.4 0.3V12.9" stroke-width="1.55"/><path d="M1.5 6.0C1.6 9.4 5.4 9.6 8.0 7.2" stroke-width="1.15"/><path d="M8.3 0.3V8.0C8.3 9.2 9.3 9.4 10.4 8.4" stroke-width="1.5"/></g>
<g transform="translate(403.20 166.60) scale(1.0)" fill="none" stroke="#000" stroke-linecap="round" stroke-linejoin="round"><path d="M0.6 3.5C0.9 1.9 1.6 1.0 2.7 0.9" stroke-width="1.2"/><path d="M2.6 0.9C3.6 1.0 4.1 2.3 4.6 3.7L7.6 13.0" stroke-width="2.7"/><path d="M7.6 13.0C9.4 9.8 11.7 6.6 12.8 3.4" stroke-width="1.45"/><ellipse cx="13.0" cy="2.1" rx="1.5" ry="2.0" transform="rotate(22 13.0 2.1)" fill="#000" stroke="none"/></g>
<g transform="translate(420.20 178.50) scale(1.0)" fill="none" stroke="#000" stroke-linecap="butt"><path d="M1.4 0.3V12.9" stroke-width="1.55"/><path d="M1.5 6.0C1.6 9.4 5.4 9.6 8.0 7.2" stroke-width="1.15"/><path d="M8.3 0.3V8.0C8.3 9.2 9.3 9.4 10.4 8.4" stroke-width="1.5"/></g>
<path d="M403.6 161H419.6" stroke="#000" stroke-width="2"/>
<g transform="translate(495.50 127.20) scale(1.0)" fill="none" stroke="#000" stroke-linecap="round" stroke-linejoin="round"><path d="M0.6 3.5C0.9 1.9 1.6 1.0 2.7 0.9" stroke-width="1.2"/><path d="M2.6 0.9C3.6 1.0 4.1 2.3 4.6 3.7L7.6 13.0" stroke-width="2.7"/><path d="M7.6 13.0C9.4 9.8 11.7 6.6 12.8 3.4" stroke-width="1.45"/><ellipse cx="13.0" cy="2.1" rx="1.5" ry="2.0" transform="rotate(22 13.0 2.1)" fill="#000" stroke="none"/></g>
<text x="512.50" y="148.30" font-size="19.6">e</text>
<g transform="translate(495.50 166.60) scale(1.0)" fill="none" stroke="#000" stroke-linecap="round" stroke-linejoin="round"><path d="M0.6 3.5C0.9 1.9 1.6 1.0 2.7 0.9" stroke-width="1.2"/><path d="M2.6 0.9C3.6 1.0 4.1 2.3 4.6 3.7L7.6 13.0" stroke-width="2.7"/><path d="M7.6 13.0C9.4 9.8 11.7 6.6 12.8 3.4" stroke-width="1.45"/><ellipse cx="13.0" cy="2.1" rx="1.5" ry="2.0" transform="rotate(22 13.0 2.1)" fill="#000" stroke="none"/></g>
<text x="512.50" y="187.70" font-size="19.6">e</text>
<path d="M495.8 161H512.2" stroke="#000" stroke-width="2"/>
<text x="530.50" y="141.00" font-size="23.0">(</text>
<path d="M539.10 129.20L549.70 139.80M539.10 139.80L549.70 129.20" stroke="#000" stroke-width="1.6" fill="none"/>
<text x="551.80" y="141.00" font-size="23.0">100)</text>
<text x="530.50" y="180.40" font-size="23.0">(</text>
<path d="M539.10 168.60L549.70 179.20M539.10 179.20L549.70 168.60" stroke="#000" stroke-width="1.6" fill="none"/>
<text x="551.80" y="180.40" font-size="23.0">100)</text>
<text x="457.30" y="242.70" font-size="21.9">2018 (thin)</text>
<text x="457.30" y="282.90" font-size="21.9">2020 (replica)</text>
</g></g>
</svg>
</body></html>
